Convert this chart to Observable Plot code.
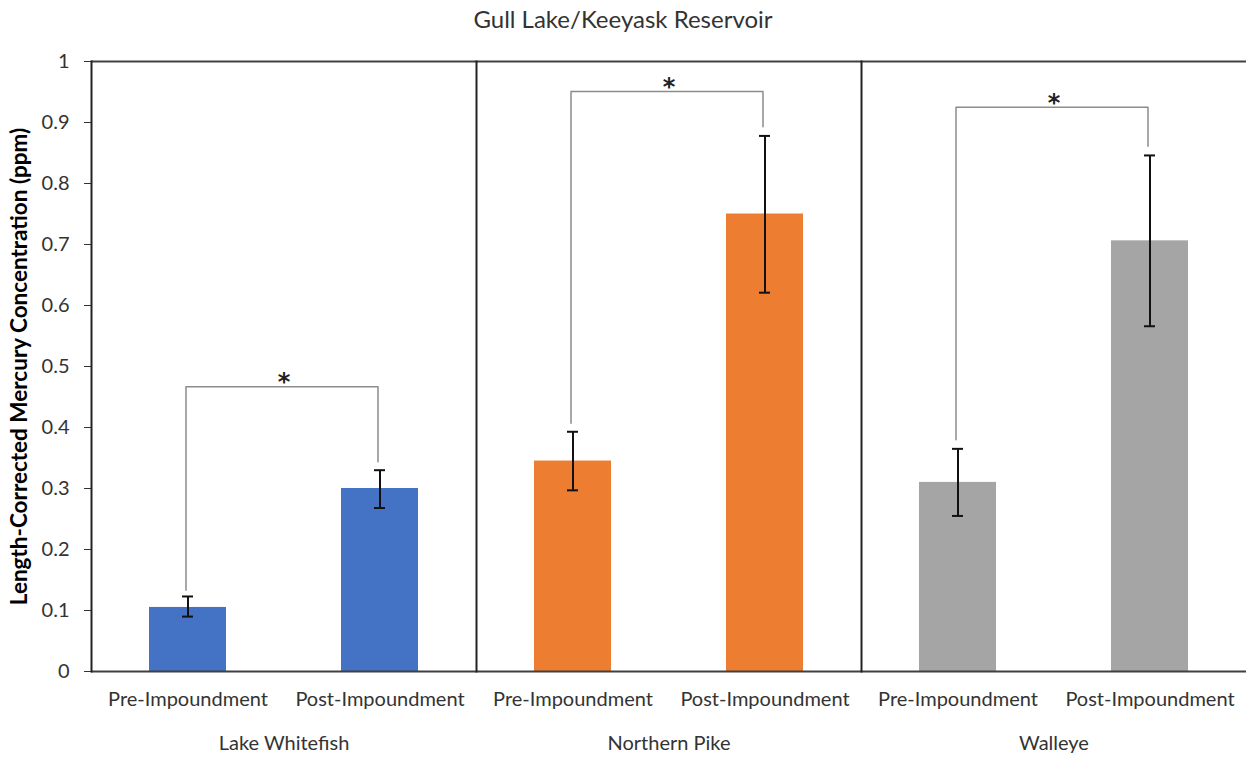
<!DOCTYPE html>
<html>
<head>
<meta charset="utf-8">
<script src="https://cdn.jsdelivr.net/npm/d3@7"></script>
<script src="https://cdn.jsdelivr.net/npm/@observablehq/plot@0.6"></script>
<style>
  html, body { margin: 0; padding: 0; background: #fff; }
  #title { width: 1246px; height: 45px; text-align: center; font-family: Lato, "Open Sans", sans-serif; font-size: 24px; line-height: 38px; color: #333; }
</style>
</head>
<body>
<div id="title">Gull Lake/Keeyask Reservoir</div>
<div id="chart"></div>
<script>
const species = ["Lake Whitefish", "Northern Pike", "Walleye"];
const periods = ["Pre-Impoundment", "Post-Impoundment"];
const colors = ["#4472C4", "#ED7D31", "#A5A5A5"];
// [pre, post] per species
const means = [[0.105, 0.300], [0.345, 0.750], [0.310, 0.706]];
const lowers = [[0.090, 0.268], [0.297, 0.621], [0.255, 0.566]];
const uppers = [[0.123, 0.330], [0.393, 0.878], [0.365, 0.846]];
// significance brackets: left end, top, right end
const bracketLeft = [0.133, 0.407, 0.380];
const bracketTop = [0.467, 0.951, 0.925];
const bracketRight = [0.344, 0.893, 0.861];
const yTicks = [0, 0.1, 0.2, 0.3, 0.4, 0.5, 0.6, 0.7, 0.8, 0.9, 1];
const yLabel = "Length-Corrected Mercury Concentration (ppm)";

const bars = species.flatMap((s, i) => periods.map((p, j) => ({
  species: s, period: p, mean: means[i][j], lo: lowers[i][j], hi: uppers[i][j]
})));
const brackets = species.flatMap((s, i) => [
  {species: s, period: periods[0], y: bracketLeft[i]},
  {species: s, period: periods[0], y: bracketTop[i]},
  {species: s, period: periods[1], y: bracketTop[i]},
  {species: s, period: periods[1], y: bracketRight[i]}
]);
const stars = species.map((s, i) => ({species: s, y: bracketTop[i]}));

const chart = Plot.plot({
  width: 1246,
  height: 712,
  marginLeft: 90,
  marginRight: 0,
  marginTop: 16,
  marginBottom: 86,
  style: {fontFamily: "Lato, 'Open Sans', sans-serif", fontSize: "20px", color: "#333", background: "#fff"},
  fx: {domain: species, padding: 0, axis: "bottom", label: null, tickSize: 0, tickPadding: 64},
  x: {domain: periods, paddingInner: 0.6, paddingOuter: 0.3, axis: "bottom", label: null, tickSize: 0, tickPadding: 20},
  y: {domain: [0, 1], ticks: yTicks, tickFormat: d => d3.format("~g")(d), tickSize: 7, tickPadding: 15,
      label: yLabel, labelArrow: false, labelAnchor: "center", labelOffset: 80},
  color: {domain: species, range: colors},
  marks: [
    Plot.barY(bars, {fx: "species", x: "period", y: "mean", fill: "species"}),
    Plot.line(brackets, {fx: "species", x: "period", y: "y", z: "species", stroke: "#8c8c8c", strokeWidth: 1.5, dx: -2}),
    Plot.text(stars, {fx: "species", y: "y", text: () => "*", fontSize: 24, fontWeight: "bold", fontFamily: "DejaVu Sans", fill: "#222", dy: -4}),
    Plot.ruleX(bars, {fx: "species", x: "period", y1: "lo", y2: "hi", stroke: "#111", strokeWidth: 2}),
    Plot.tickY(bars, {fx: "species", x: "period", y: "lo", stroke: "#111", strokeWidth: 2, insetLeft: 33, insetRight: 33}),
    Plot.tickY(bars, {fx: "species", x: "period", y: "hi", stroke: "#111", strokeWidth: 2, insetLeft: 33, insetRight: 33}),
    Plot.ruleY([0], {stroke: "#404040", strokeWidth: 2}),
    Plot.ruleY([1], {stroke: "#404040", strokeWidth: 2}),
    Plot.frame({anchor: "left", stroke: "#222", strokeWidth: 2})
  ]
});
document.getElementById("chart").appendChild(chart);
chart.querySelectorAll("text").forEach(t => {
  if (t.textContent.startsWith("Length-Corrected")) {
    t.textContent = yLabel;
    t.setAttribute("font-weight", "bold");
    t.style.fontWeight = "bold";
    t.style.fontSize = "22.5px";
    t.style.fill = "#000";
  }
});
</script>
</body>
</html>
